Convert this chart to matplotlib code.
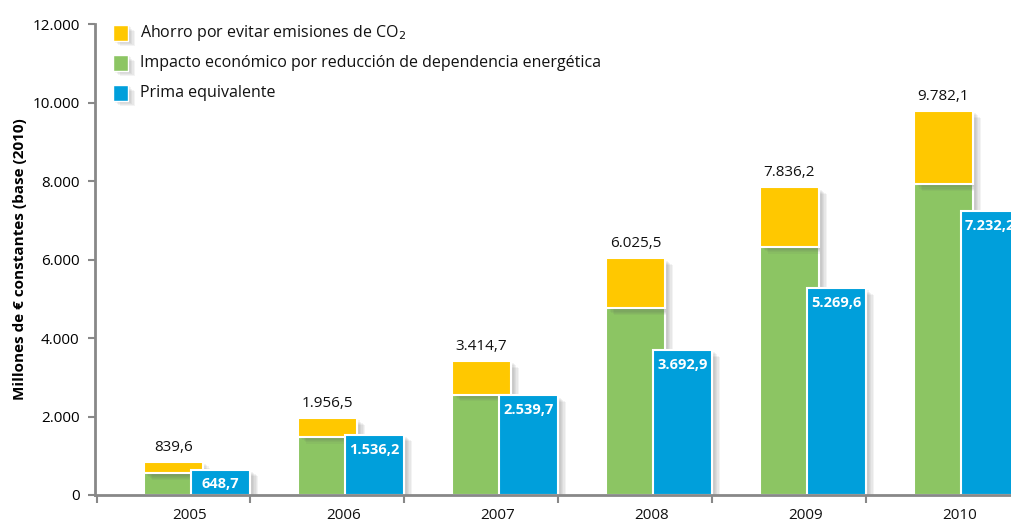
import numpy as np
import matplotlib
matplotlib.use('Agg')
import matplotlib.pyplot as plt
import matplotlib.patheffects as pe

plt.rcParams['font.family'] = ['Open Sans', 'DejaVu Sans']

years = ['2005', '2006', '2007', '2008', '2009', '2010']
totales = [839.6, 1956.5, 3414.7, 6025.5, 7836.2, 9782.1]  # verde + amarillo
impacto = [550, 1480, 2555, 4760, 6320, 7920]  # verde (estimado)
prima = [648.7, 1536.2, 2539.7, 3692.9, 5269.6, 7232.2]  # azul
ahorro = [t - v for t, v in zip(totales, impacto)]  # amarillo

col_ahorro = '#FFC800'
col_impacto = '#8CC563'
col_prima = '#009FDB'

def fmt(v):
    s = f'{v:,.1f}'
    return s.replace(',', 'X').replace('.', ',').replace('X', '.')

def sombra_suave(d=6):
    # sombra difusa aproximada con varias capas
    capas = [pe.SimplePatchShadow(offset=(k, -k * 0.8), shadow_rgbFace='#555555', alpha=0.07)
             for k in range(d, 0, -1)]
    return capas + [pe.Normal()]

fig = plt.figure(figsize=(10.11, 5.24), dpi=100)
ax = fig.add_axes([95/1011, 29/524, 916/1011, 471/524])

x = np.arange(len(years))
w = 0.383
off = 0.305

b1 = ax.bar(x, impacto, w, color=col_impacto, edgecolor='white', linewidth=1.5, zorder=2)
b2 = ax.bar(x, ahorro, w, bottom=impacto, color=col_ahorro, edgecolor='white', linewidth=1.5, zorder=2)
b3 = ax.bar(x + off, prima, w, color=col_prima, edgecolor='white', linewidth=1.5, zorder=3)
for bars in (b1, b2, b3):
    for p in bars:
        p.set_path_effects(sombra_suave())

for i in range(len(years)):
    ax.text(x[i], totales[i] + 180, fmt(totales[i]), ha='center', va='bottom', fontsize=11, color='#111111')
    ax.text(x[i] + off, prima[i] - 200, fmt(prima[i]), ha='center', va='top', fontsize=10.5,
            color='white', fontweight='bold', zorder=4)

ax.set_xlim(-0.51, 5.44)
ax.set_ylim(0, 12000)
ax.set_yticks(np.arange(0, 12001, 2000))
ax.set_yticklabels(['0' if v == 0 else f'{v:,}'.replace(',', '.') for v in range(0, 12001, 2000)], fontsize=11)
ax.set_xticks(np.arange(-0.5, 5.5, 1))
ax.set_xticklabels([])
for i, y in enumerate(years):
    ax.text(x[i] + 0.107, -330, y, ha='center', va='top', fontsize=11, color='#111111')

ax.tick_params(axis='y', length=5, width=1.5, color='#888888', pad=6)
ax.tick_params(axis='x', length=6, width=1.5, color='#888888')
for s in ('top', 'right'):
    ax.spines[s].set_visible(False)
ax.spines['left'].set_color('#888888')
ax.spines['left'].set_linewidth(2)
ax.spines['bottom'].set_color('#888888')
ax.spines['bottom'].set_linewidth(2)
ax.spines['bottom'].set_zorder(5)

ax.set_ylabel('Millones de € constantes (base (2010)', fontsize=11, fontweight='bold', labelpad=4)

# leyenda
etiquetas = ['Ahorro por evitar emisiones de CO$_2$',
             'Impacto económico por reducción de dependencia energética',
             'Prima equivalente']
colores = [col_ahorro, col_impacto, col_prima]
for k, (lab, c) in enumerate(zip(etiquetas, colores)):
    yp = 1 - (33 + 30 * k - 24) / 471
    ax.scatter([0.0278], [yp], s=125, marker='s', color=c, edgecolor='white', linewidth=1,
               transform=ax.transAxes, zorder=6, clip_on=False,
               path_effects=sombra_suave(5))
    ax.text(0.049, yp, lab, transform=ax.transAxes, va='center', ha='left', fontsize=11.5, color='#111111')

fig.savefig('out.png', dpi=100)
